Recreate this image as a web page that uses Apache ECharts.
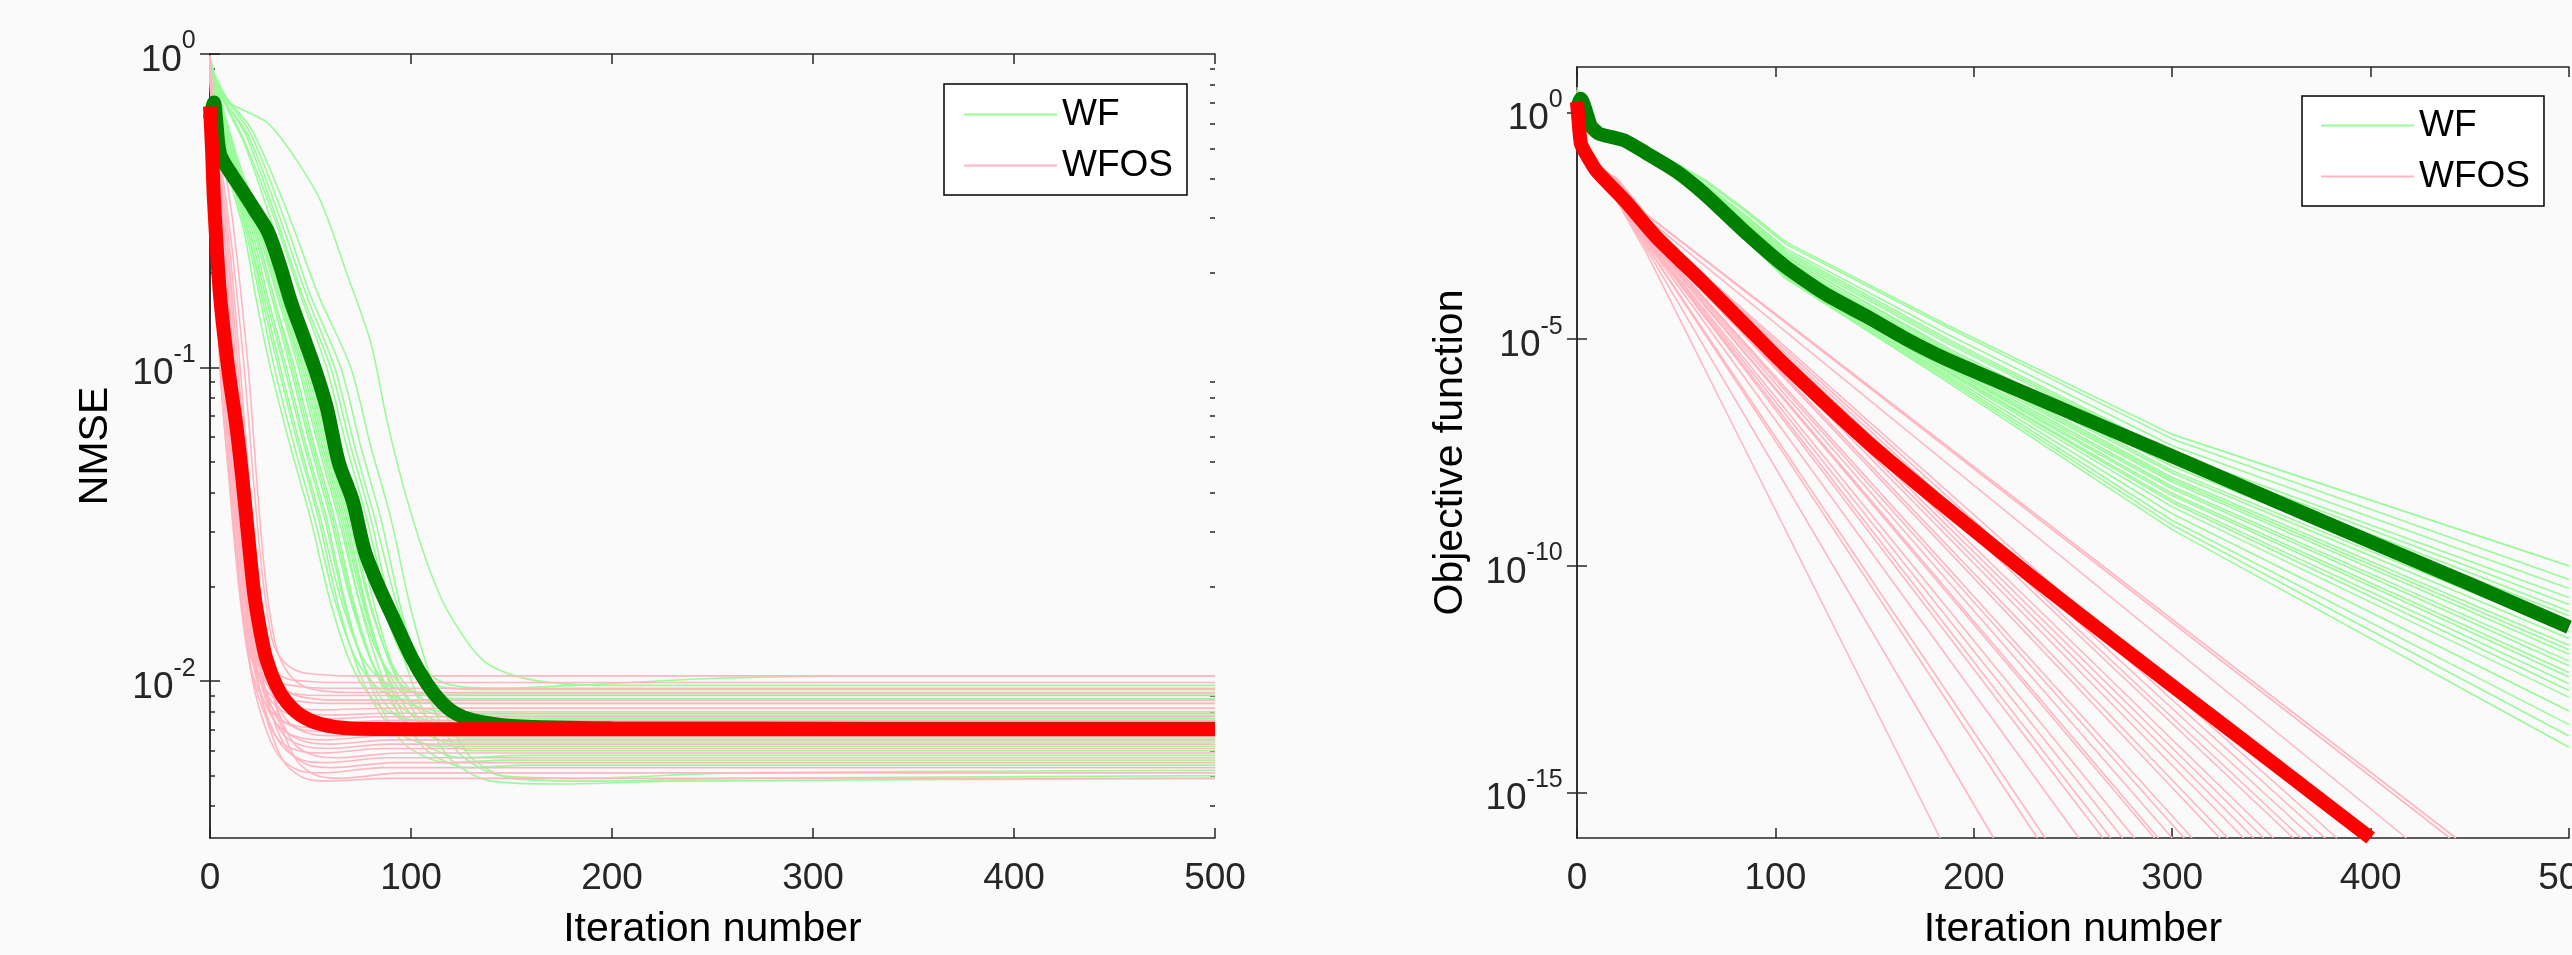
<!DOCTYPE html>
<html>
<head>
<meta charset="utf-8">
<script src="https://cdn.jsdelivr.net/npm/echarts@6/dist/echarts.min.js"></script>
<style>
html,body{margin:0;padding:0;background:#fafafa;}
#chart{width:2572px;height:955px;}
</style>
</head>
<body>
<div id="chart"></div>
<script>
// ---------------- tick values ----------------
const iterTicks = [0, 100, 200, 300, 400, 500];
const nmseMajorTicks = [0.01, 0.1, 1];
const nmseMinorTicks = [0.004,0.005,0.006,0.007,0.008,0.009,0.02,0.03,0.04,0.05,0.06,0.07,0.08,0.09,0.2,0.3,0.4,0.5,0.6,0.7,0.8,0.9];
const objMajorTicks = [1e-15, 1e-10, 1e-5, 1];

// ---------------- left panel: NMSE ----------------
// WF runs, [iteration, NMSE]
const wfNmse = [
 [[0,0.95],[3,0.8],[7,0.71],[15,0.67],[29,0.6],[42,0.47],[55,0.34],[68,0.2],[80,0.12],[88,0.068],[98,0.038],[110,0.022],[120,0.016],[137,0.0115],[160,0.0101],[200,0.0097],[500,0.0097]],
 [[0,0.92],[3,0.7],[9,0.42],[17,0.27],[23,0.165],[30,0.1],[40,0.056],[50,0.033],[60,0.0178],[70,0.0114],[80,0.0089],[90,0.0079],[110,0.0074],[500,0.0074]],
 [[0,0.95],[3,0.72],[10,0.42],[18,0.27],[25,0.165],[32,0.1],[42,0.056],[52,0.033],[62,0.0182],[72,0.012],[82,0.0097],[92,0.0089],[112,0.0085],[500,0.0085]],
 [[0,0.9],[3,0.73],[10,0.42],[19,0.27],[26,0.165],[34,0.1],[44,0.056],[54,0.033],[64,0.0173],[74,0.0108],[84,0.008],[94,0.0068],[114,0.0062],[500,0.0062]],
 [[0,0.97],[3,0.74],[11,0.42],[19,0.27],[27,0.165],[35,0.1],[45,0.056],[55,0.033],[65,0.0184],[75,0.0122],[85,0.0101],[95,0.0094],[115,0.0091],[500,0.0091]],
 [[0,0.88],[3,0.74],[11,0.42],[20,0.27],[28,0.165],[37,0.1],[47,0.056],[57,0.033],[67,0.0176],[77,0.0111],[87,0.0085],[97,0.0074],[117,0.0068],[500,0.0068]],
 [[0,0.93],[3,0.75],[11,0.42],[21,0.27],[29,0.165],[38,0.1],[48,0.056],[58,0.033],[68,0.0171],[78,0.0105],[88,0.0076],[98,0.0062],[118,0.0055],[148,0.0056],[500,0.0056]],
 [[0,0.96],[3,0.76],[12,0.42],[22,0.27],[31,0.165],[40,0.1],[50,0.056],[60,0.033],[70,0.018],[80,0.0117],[90,0.0093],[100,0.0084],[120,0.008],[500,0.008]],
 [[0,0.91],[3,0.76],[12,0.42],[23,0.27],[32,0.165],[41,0.1],[51,0.056],[61,0.033],[71,0.0177],[81,0.0113],[91,0.0088],[101,0.0078],[121,0.0072],[500,0.0072]],
 [[0,0.94],[3,0.77],[13,0.42],[23,0.27],[32,0.165],[42,0.1],[52,0.056],[62,0.033],[72,0.0174],[82,0.0109],[92,0.0082],[102,0.007],[122,0.0064],[500,0.0064]],
 [[0,0.98],[3,0.78],[13,0.42],[24,0.27],[34,0.165],[44,0.1],[54,0.056],[64,0.033],[74,0.0183],[84,0.0121],[94,0.0099],[104,0.0091],[124,0.0088],[500,0.0088]],
 [[0,0.9],[3,0.78],[14,0.42],[25,0.27],[35,0.165],[45,0.1],[55,0.056],[65,0.033],[75,0.0172],[85,0.0106],[95,0.0077],[105,0.0064],[125,0.0057],[155,0.0058],[500,0.0058]],
 [[0,0.95],[3,0.79],[14,0.42],[25,0.27],[35,0.165],[46,0.1],[56,0.056],[66,0.033],[76,0.0178],[86,0.0115],[96,0.0091],[106,0.0081],[126,0.0076],[500,0.0076]],
 [[0,0.92],[3,0.79],[14,0.42],[26,0.27],[36,0.165],[47,0.1],[57,0.056],[67,0.033],[77,0.0175],[87,0.011],[97,0.0083],[107,0.0072],[127,0.0066],[500,0.0066]],
 [[0,0.97],[3,0.8],[14,0.42],[26,0.27],[37,0.165],[48,0.1],[58,0.056],[68,0.033],[78,0.017],[88,0.0104],[98,0.0074],[108,0.006],[128,0.0053],[158,0.0054],[500,0.0054]],
 [[0,0.89],[3,0.8],[15,0.42],[27,0.27],[38,0.165],[49,0.1],[59,0.056],[69,0.033],[79,0.018],[89,0.0118],[99,0.0095],[109,0.0086],[129,0.0082],[500,0.0082]],
 [[0,0.94],[3,0.8],[15,0.42],[28,0.27],[39,0.165],[50,0.1],[60,0.056],[70,0.033],[80,0.0176],[90,0.0112],[100,0.0086],[110,0.0076],[130,0.007],[500,0.007]],
 [[0,0.96],[3,0.81],[16,0.42],[29,0.27],[40,0.165],[52,0.1],[62,0.056],[72,0.033],[82,0.0172],[92,0.0107],[102,0.0079],[112,0.0066],[132,0.006],[500,0.006]],
 [[0,0.93],[3,0.8],[8,0.68],[17,0.52],[30,0.3],[42,0.17],[55,0.1],[65,0.056],[75,0.033],[85,0.0185],[95,0.0123],[105,0.0103],[115,0.0096],[135,0.0094],[500,0.0094]],
 [[0,0.97],[3,0.82],[8,0.69],[17,0.53],[32,0.3],[45,0.17],[58,0.1],[68,0.056],[78,0.033],[88,0.0179],[98,0.0116],[108,0.0092],[118,0.0083],[138,0.0078],[500,0.0078]],
 [[0,0.95],[3,0.82],[8,0.7],[18,0.55],[33,0.3],[46,0.17],[60,0.1],[70,0.056],[80,0.033],[90,0.0168],[100,0.0101],[110,0.0071],[120,0.0056],[140,0.0048],[175,0.0047],[230,0.0048],[500,0.0049]],
 [[0,0.92],[3,0.81],[8,0.7],[19,0.55],[34,0.31],[48,0.17],[62,0.1],[72,0.056],[82,0.033],[92,0.0185],[102,0.0122],[112,0.0102],[125,0.0096],[145,0.0095],[180,0.0097],[250,0.0102],[320,0.0104],[500,0.0104]],
 [[0,0.98],[3,0.83],[8,0.72],[20,0.56],[36,0.31],[50,0.17],[65,0.1],[75,0.056],[85,0.033],[95,0.017],[105,0.0103],[115,0.0073],[125,0.0058],[145,0.005],[185,0.0049],[260,0.0051],[500,0.0052]],
 [[0,0.94],[3,0.84],[8,0.73],[21,0.57],[38,0.32],[54,0.17],[70,0.1],[80,0.056],[90,0.033],[100,0.0169],[110,0.0102],[120,0.0072],[130,0.0057],[150,0.0049],[190,0.0048],[260,0.0049],[500,0.005]]
];
// WFOS runs, [iteration, NMSE]
const wfosNmse = [
 [[0,0.9],[1,0.55],[2,0.33],[5,0.1],[10,0.04],[14,0.021],[19,0.012],[25,0.0091],[33,0.0077],[43,0.0072],[55,0.0071],[85,0.0073],[500,0.0073]],
 [[0,0.95],[1,0.6],[2,0.35],[5,0.1],[10,0.041],[14,0.022],[19,0.0127],[25,0.0104],[33,0.0094],[43,0.0091],[55,0.009],[500,0.009]],
 [[0,0.88],[1,0.58],[2,0.36],[6,0.1],[11,0.04],[15,0.021],[20,0.0114],[26,0.0082],[34,0.0065],[44,0.006],[56,0.0059],[86,0.0061],[500,0.0061]],
 [[0,0.97],[1,0.62],[2,0.38],[6,0.1],[11,0.041],[15,0.021],[20,0.0124],[26,0.0098],[34,0.0086],[44,0.0082],[56,0.0081],[86,0.0082],[500,0.0082]],
 [[0,0.92],[1,0.6],[2,0.37],[6,0.1],[11,0.039],[15,0.02],[20,0.011],[26,0.0076],[34,0.0058],[44,0.0052],[56,0.0051],[86,0.0053],[500,0.0053]],
 [[0,0.94],[1,0.63],[2,0.4],[7,0.1],[12,0.04],[16,0.021],[21,0.0122],[27,0.0094],[35,0.0081],[45,0.0077],[57,0.0076],[87,0.0077],[500,0.0077]],
 [[0,0.86],[1,0.6],[2,0.39],[7,0.1],[12,0.04],[16,0.021],[21,0.0117],[27,0.0086],[35,0.0071],[45,0.0066],[57,0.0065],[87,0.0067],[500,0.0067]],
 [[0,0.98],[1,0.66],[2,0.42],[7,0.1],[12,0.041],[16,0.022],[21,0.013],[27,0.0108],[35,0.0099],[45,0.0096],[57,0.0095],[500,0.0095]],
 [[0,0.9],[1,0.62],[2,0.42],[8,0.1],[13,0.04],[17,0.021],[22,0.0112],[28,0.0079],[36,0.0062],[46,0.0056],[58,0.0055],[88,0.0057],[500,0.0057]],
 [[0,0.93],[1,0.64],[2,0.43],[8,0.1],[13,0.04],[17,0.021],[22,0.0119],[28,0.0089],[36,0.0075],[46,0.007],[58,0.0069],[88,0.0071],[500,0.0071]],
 [[0,0.96],[1,0.66],[2,0.44],[8,0.1],[13,0.041],[17,0.022],[22,0.0125],[28,0.01],[36,0.0089],[46,0.0086],[58,0.0085],[500,0.0085]],
 [[0,0.89],[1,0.63],[2,0.45],[9,0.1],[14,0.04],[18,0.021],[23,0.0115],[29,0.0083],[37,0.0067],[47,0.0062],[59,0.0061],[89,0.0063],[500,0.0063]],
 [[0,0.94],[1,0.66],[2,0.46],[9,0.1],[14,0.039],[18,0.02],[23,0.0108],[29,0.0073],[37,0.0055],[47,0.0049],[59,0.0048],[89,0.0049],[500,0.0049]],
 [[0,0.97],[1,0.68],[2,0.47],[9,0.1],[14,0.04],[18,0.021],[23,0.0123],[29,0.0096],[37,0.0083],[47,0.0079],[59,0.0078],[89,0.0079],[500,0.0079]],
 [[0,0.91],[1,0.66],[2,0.48],[6,0.27],[10,0.1],[15,0.04],[19,0.021],[24,0.0116],[30,0.0085],[38,0.0069],[48,0.0064],[60,0.0063],[90,0.0065],[500,0.0065]],
 [[0,0.99],[1,0.7],[2,0.5],[6,0.28],[10,0.1],[15,0.041],[19,0.022],[24,0.0132],[30,0.0111],[38,0.0102],[48,0.01],[60,0.0099],[500,0.0099]],
 [[0,0.9],[1,0.68],[2,0.5],[7,0.27],[11,0.1],[16,0.039],[20,0.02],[25,0.0111],[31,0.0077],[39,0.006],[49,0.0054],[61,0.0053],[91,0.0055],[500,0.0055]],
 [[0,0.95],[1,0.72],[2,0.53],[7,0.28],[12,0.1],[17,0.04],[21,0.021],[26,0.0121],[32,0.0093],[40,0.0079],[50,0.0075],[62,0.0074],[92,0.0075],[500,0.0075]],
 [[0,0.92],[1,0.7],[2,0.52],[7,0.27],[12,0.1],[17,0.04],[21,0.021],[26,0.0118],[32,0.0088],[40,0.0073],[50,0.0068],[62,0.0067],[92,0.0069],[500,0.0069]],
 [[0,0.97],[1,0.74],[2,0.56],[8,0.27],[13,0.1],[18,0.041],[22,0.022],[27,0.0126],[33,0.0102],[41,0.0091],[51,0.0088],[63,0.0087],[500,0.0087]],
 [[0,0.93],[1,0.74],[2,0.57],[8,0.28],[14,0.1],[19,0.04],[23,0.021],[28,0.0113],[34,0.008],[42,0.0063],[52,0.0058],[64,0.0057],[94,0.0059],[500,0.0059]],
 [[0,0.96],[1,0.76],[2,0.6],[9,0.27],[15,0.1],[20,0.039],[24,0.02],[29,0.0109],[35,0.0074],[43,0.0056],[53,0.005],[65,0.0049],[95,0.0051],[500,0.0051]],
 [[0,0.99],[1,0.8],[2,0.65],[10,0.27],[17,0.1],[22,0.041],[26,0.022],[31,0.0135],[37,0.0115],[45,0.0107],[55,0.0105],[67,0.0104],[500,0.0104]],
 [[0,0.95],[2,0.7],[6,0.5],[12,0.27],[19,0.1],[24,0.038],[28,0.02],[33,0.0128],[39,0.0106],[47,0.0096],[57,0.0093],[69,0.0092],[500,0.0092]]
];
const wfNmseMean = [[0,0.62],[2,0.7],[3,0.62],[5,0.48],[10,0.42],[15,0.376],[22,0.32],[29,0.27],[35,0.21],[40,0.164],[46,0.128],[52,0.1],[58,0.075],[64,0.05],[71,0.0376],[77,0.026],[84,0.02],[91,0.016],[100,0.012],[108,0.0098],[115,0.0086],[122,0.0079],[131,0.0075],[150,0.0072],[200,0.00708],[500,0.00705]];
const wfosNmseMean = [[0,0.68],[1,0.5],[2,0.34],[5,0.17],[9,0.1],[13,0.066],[16,0.045],[19,0.029],[22,0.019],[25,0.0145],[28,0.0118],[33,0.0097],[38,0.0086],[45,0.0078],[55,0.0073],[70,0.00706],[100,0.00703],[500,0.00703]];

// ---------------- right panel: objective function ----------------
const wfObjIter = [0, 2, 5, 11, 24, 45, 65, 85, 105, 187, 300, 500];
const wfObj = [
 [1.58,2.0,0.891,0.398,0.263,0.1,0.0316,7.08e-3,1.41e-3,2.0e-5,7.94e-8,1e-10],
 [2.82,2.09,0.794,0.38,0.251,0.0955,0.0295,6.46e-3,1.26e-3,1.78e-5,6.31e-8,5.01e-11],
 [2.0,1.91,0.832,0.363,0.24,0.0891,0.0251,5.37e-3,1e-3,1.26e-5,4.47e-8,3.16e-11],
 [3.55,2.24,0.759,0.355,0.245,0.0871,0.024,4.9e-3,8.91e-4,1e-5,3.16e-8,2.0e-11],
 [1.41,1.86,0.871,0.372,0.234,0.0832,0.0224,4.47e-3,7.94e-4,8.91e-6,2.82e-8,1.41e-11],
 [2.24,2.0,0.794,0.347,0.229,0.0813,0.0204,4.07e-3,7.08e-4,7.94e-6,2.51e-8,1e-11],
 [1.78,2.14,0.724,0.339,0.224,0.0776,0.0191,3.63e-3,6.31e-4,6.31e-6,2.0e-8,7.94e-12],
 [2.51,1.95,0.851,0.363,0.234,0.0794,0.02,3.8e-3,6.61e-4,5.62e-6,1.58e-8,5.01e-12],
 [1.58,2.04,0.776,0.355,0.224,0.0759,0.0178,3.39e-3,5.62e-4,5.01e-6,1.26e-8,3.55e-12],
 [3.16,2.19,0.813,0.331,0.219,0.0724,0.0166,3.09e-3,5.01e-4,4.47e-6,1.12e-8,2.51e-12],
 [2.0,1.91,0.741,0.347,0.224,0.0708,0.0158,2.95e-3,4.79e-4,3.98e-6,8.91e-9,1.78e-12],
 [1.51,2.0,0.832,0.355,0.214,0.0692,0.0155,2.75e-3,4.47e-4,3.55e-6,7.94e-9,1.41e-12],
 [2.63,2.09,0.759,0.324,0.214,0.0676,0.0141,2.51e-3,3.98e-4,3.16e-6,7.08e-9,1.12e-12],
 [1.91,1.86,0.794,0.339,0.209,0.0661,0.0138,2.4e-3,3.8e-4,2.82e-6,5.62e-9,7.94e-13],
 [1.66,2.04,0.708,0.331,0.209,0.0646,0.0132,2.29e-3,3.55e-4,2.51e-6,5.01e-9,6.31e-13],
 [3.02,2.24,0.813,0.347,0.214,0.0631,0.0129,2.24e-3,3.39e-4,2.4e-6,3.98e-9,4.47e-13],
 [2.14,1.95,0.776,0.324,0.204,0.0631,0.0126,2.09e-3,3.16e-4,2.24e-6,3.55e-9,3.55e-13],
 [1.45,2.0,0.741,0.339,0.209,0.0617,0.0123,2.04e-3,3.02e-4,2.0e-6,2.82e-9,2.51e-13],
 [2.4,2.14,0.794,0.316,0.2,0.0603,0.0115,1.91e-3,2.82e-4,1.91e-6,2.51e-9,1.78e-13],
 [1.82,1.91,0.724,0.331,0.204,0.0603,0.0112,1.86e-3,2.75e-4,1.78e-6,2.0e-9,1.26e-13],
 [2.75,2.09,0.759,0.316,0.2,0.0575,0.0107,1.74e-3,2.51e-4,1.58e-6,1.41e-9,6.31e-14],
 [1.62,1.95,0.813,0.339,0.2,0.0575,0.0105,1.7e-3,2.45e-4,1.41e-6,1e-9,3.16e-14],
 [2.29,2.04,0.708,0.316,0.195,0.0562,0.01,1.58e-3,2.24e-4,1.26e-6,7.94e-10,1.78e-14],
 [1.74,2.19,0.776,0.324,0.195,0.055,9.77e-3,1.55e-3,2.19e-4,1.12e-6,6.31e-10,1e-14]
];
const wfosObj = [
 [[0,1.26],[2,0.158],[10,0.0355],[20,0.0112],[35,7.94e-4],[183,1e-16]],
 [[0,1.78],[2,0.166],[10,0.0372],[20,0.012],[35,9.77e-4],[210,1e-16]],
 [[0,1],[2,0.178],[10,0.038],[20,0.0126],[35,1.15e-3],[232,1e-16]],
 [[0,2.0],[2,0.17],[10,0.0398],[20,0.0132],[35,1.17e-3],[236,1e-16]],
 [[0,1.41],[2,0.191],[10,0.0417],[20,0.0141],[35,1.35e-3],[253,1e-16]],
 [[0,1.12],[2,0.182],[10,0.0398],[20,0.0148],[35,1.48e-3],[265,1e-16]],
 [[0,2.51],[2,0.2],[10,0.0437],[20,0.0151],[35,1.51e-3],[269,1e-16]],
 [[0,1.58],[2,0.186],[10,0.0427],[20,0.0158],[35,1.58e-3],[275,1e-16]],
 [[0,1.26],[2,0.195],[10,0.0447],[20,0.0162],[35,1.66e-3],[281,1e-16]],
 [[0,1.91],[2,0.204],[10,0.0457],[20,0.017],[35,1.78e-3],[291,1e-16]],
 [[0,1.05],[2,0.191],[10,0.0437],[20,0.0174],[35,1.82e-3],[293,1e-16]],
 [[0,2.24],[2,0.209],[10,0.0468],[20,0.0182],[35,1.91e-3],[300,1e-16]],
 [[0,1.32],[2,0.2],[10,0.0479],[20,0.0186],[35,2.0e-3],[306,1e-16]],
 [[0,1.66],[2,0.214],[10,0.049],[20,0.0191],[35,2.09e-3],[310,1e-16]],
 [[0,1.2],[2,0.204],[10,0.0501],[20,0.0204],[35,2.29e-3],[324,1e-16]],
 [[0,3.16],[2,0.219],[10,0.0513],[20,0.0209],[35,2.34e-3],[328,1e-16]],
 [[0,1.51],[2,0.209],[10,0.0501],[20,0.0219],[35,2.51e-3],[336,1e-16]],
 [[0,1.07],[2,0.224],[10,0.0525],[20,0.0224],[35,2.63e-3],[341,1e-16]],
 [[0,1.86],[2,0.214],[10,0.0537],[20,0.0229],[35,2.69e-3],[346,1e-16]],
 [[0,1.38],[2,0.229],[10,0.055],[20,0.024],[35,2.82e-3],[351,1e-16]],
 [[0,2.14],[2,0.219],[10,0.0562],[20,0.0251],[35,3.02e-3],[361,1e-16]],
 [[0,1.15],[2,0.234],[10,0.055],[20,0.0257],[35,3.16e-3],[365,1e-16]],
 [[0,1.74],[2,0.224],[10,0.0575],[20,0.0263],[35,3.24e-3],[371,1e-16]],
 [[0,1.29],[2,0.24],[10,0.0589],[20,0.0269],[35,3.39e-3],[377,1e-16]],
 [[0,2.0],[2,0.229],[10,0.0603],[20,0.0282],[35,3.55e-3],[383,1e-16]],
 [[0,1.55],[2,0.245],[10,0.0631],[20,0.0316],[35,4.68e-3],[418,1e-16]],
 [[0,1.17],[2,0.251],[10,0.0631],[20,0.0347],[35,5.5e-3],[440,1e-16]],
 [[0,2.4],[2,0.24],[10,0.0661],[20,0.0355],[35,5.62e-3],[443,1e-16]]
];
const wfObjMean = [[0,1.26],[2,2.0],[4,1.26],[7,0.501],[11,0.339],[18,0.282],[24,0.24],[35,0.126],[50,0.0501],[64,0.0162],[85,2.24e-3],[105,3.98e-4],[125,1e-4],[146,3.16e-5],[166,1e-5],[187,3.47e-6],[228,5.89e-7],[269,1e-7],[310,1.7e-8],[350,2.95e-9],[391,5.01e-10],[450,3.98e-11],[500,4.47e-12]];
const wfosObjMean = [[0,1.7],[1,0.501],[2,0.2],[5,0.112],[10,0.0501],[24,0.0115],[40,1.78e-3],[64,1.7e-4],[85,2.0e-5],[105,2.63e-6],[146,5.62e-8],[187,1.78e-9],[228,6.31e-11],[269,2.51e-12],[310,1.05e-13],[350,4.79e-15],[400,1e-16]];

// ---------------- styling ----------------
const FONT = '"Liberation Sans", Arial, Helvetica, sans-serif';
const AX = '#262626';
const LIGHT_GREEN = '#98fb98';
const PINK = '#ffb6c1';
const DARK_GREEN = '#008000';
const RED = '#ff0000';
const THIN = 1.6, THICK = 14;

const expLabel = v => '{b|10}{s|' + Math.round(Math.log10(v)) + '}{h| }';
const expRich = {
  b: {fontSize: 37, lineHeight: 37, verticalAlign: 'bottom', color: AX, fontFamily: FONT},
  s: {fontSize: 25, lineHeight: 36, verticalAlign: 'top', color: AX, fontFamily: FONT},
  h: {fontSize: 1, lineHeight: 50}
};
const axLine = {show: true, lineStyle: {color: AX, width: 1.5}};

function xAx(grid, pos, withLabels) {
  return {
    type: 'value', gridIndex: grid, position: pos, min: 0, max: 500, interval: 100,
    axisLine: axLine,
    axisTick: {show: true, inside: true, length: 10, lineStyle: {color: AX, width: 1.5}, customValues: iterTicks},
    axisLabel: {show: withLabels, customValues: iterTicks, fontSize: 37, color: AX, fontFamily: FONT, margin: 22},
    splitLine: {show: false},
    name: withLabels ? 'Iteration number' : '',
    nameLocation: 'middle', nameGap: 71,
    nameTextStyle: {fontSize: 41, color: '#000', fontFamily: FONT}
  };
}
function yAx(grid, pos, min, max, ticks, len, withLabels, withLine, name, nameGap) {
  return {
    type: 'log', gridIndex: grid, position: pos, offset: 0, min: min, max: max, logBase: 10,
    axisLine: withLine ? axLine : {show: false},
    axisTick: {show: true, inside: true, length: len, lineStyle: {color: AX, width: 1.5}, customValues: ticks},
    axisLabel: {show: withLabels, customValues: ticks, formatter: expLabel, rich: expRich, margin: 14},
    minorTick: {show: false}, splitLine: {show: false}, minorSplitLine: {show: false},
    name: name || '', nameLocation: 'middle', nameGap: nameGap || 0, nameMoveOverlap: false,
    nameTextStyle: {fontSize: 41, color: '#000', fontFamily: FONT}
  };
}

function mk(name, data, color, width, xi, yi, smooth) {
  return {
    type: 'line', name: name, data: data, xAxisIndex: xi, yAxisIndex: yi,
    symbol: 'none', showSymbol: false, smooth: smooth,
    color: color, lineStyle: {color: color, width: width},
    itemStyle: {color: color}, silent: true, animation: false, clip: true,
    emphasis: {disabled: true}
  };
}

const series = [];
wfNmse.forEach(d => series.push(mk('WF', d, LIGHT_GREEN, THIN, 0, 0, 0.3)));
wfosNmse.forEach(d => series.push(mk('WFOS', d, PINK, THIN, 0, 0, 0.3)));
series.push(mk('WF mean', wfNmseMean, DARK_GREEN, THICK, 0, 0, 0.3));
series.push(mk('WFOS mean', wfosNmseMean, RED, THICK, 0, 0, 0.3));
wfObj.forEach(vals => series.push(mk('WF', wfObjIter.map((x, i) => [x, vals[i]]), LIGHT_GREEN, THIN, 2, 4, false)));
wfosObj.forEach(d => series.push(mk('WFOS', d, PINK, THIN, 2, 4, false)));
series.push(mk('WF mean', wfObjMean, DARK_GREEN, THICK, 2, 4, 0.2));
series.push(mk('WFOS mean', wfosObjMean, RED, THICK, 2, 4, 0.2));

const legendBase = {
  orient: 'vertical', data: ['WF', 'WFOS'], backgroundColor: '#ffffff',
  borderColor: '#000', borderWidth: 1.5, borderRadius: 0,
  itemWidth: 93, itemHeight: 37, itemGap: 14, selectedMode: false,
  itemStyle: {opacity: 0, borderWidth: 0},
  textStyle: {fontSize: 37, color: '#000', fontFamily: FONT}
};

const option = {
  backgroundColor: '#fafafa',
  animation: false,
  textStyle: {fontFamily: FONT},
  grid: [
    {left: 210, top: 54, width: 1005, height: 784, containLabel: false, outerBoundsMode: 'none'},
    {left: 1577, top: 67, width: 992, height: 771, containLabel: false, outerBoundsMode: 'none'}
  ],
  legend: [
    Object.assign({}, legendBase, {left: 944, top: 84, padding: [12, 14, 11, 19]}),
    Object.assign({}, legendBase, {left: 2302, top: 96, padding: [11, 14, 11, 18]})
  ],
  xAxis: [xAx(0, 'bottom', true), xAx(0, 'top', false), xAx(1, 'bottom', true), xAx(1, 'top', false)],
  yAxis: [
    yAx(0, 'left', 0.0031623, 1, nmseMajorTicks, 10, true, true, 'NMSE', 94),
    yAx(0, 'right', 0.0031623, 1, nmseMajorTicks, 10, false, true),
    yAx(0, 'left', 0.0031623, 1, nmseMinorTicks, 5, false, false),
    yAx(0, 'right', 0.0031623, 1, nmseMinorTicks, 5, false, false),
    yAx(1, 'left', 1e-16, 10, objMajorTicks, 10, true, true, 'Objective function', 106),
    yAx(1, 'right', 1e-16, 10, objMajorTicks, 10, false, true)
  ],
  series: series
};

const chart = echarts.init(document.getElementById('chart'), null, {renderer: 'canvas'});
chart.setOption(option);
</script>
</body>
</html>
